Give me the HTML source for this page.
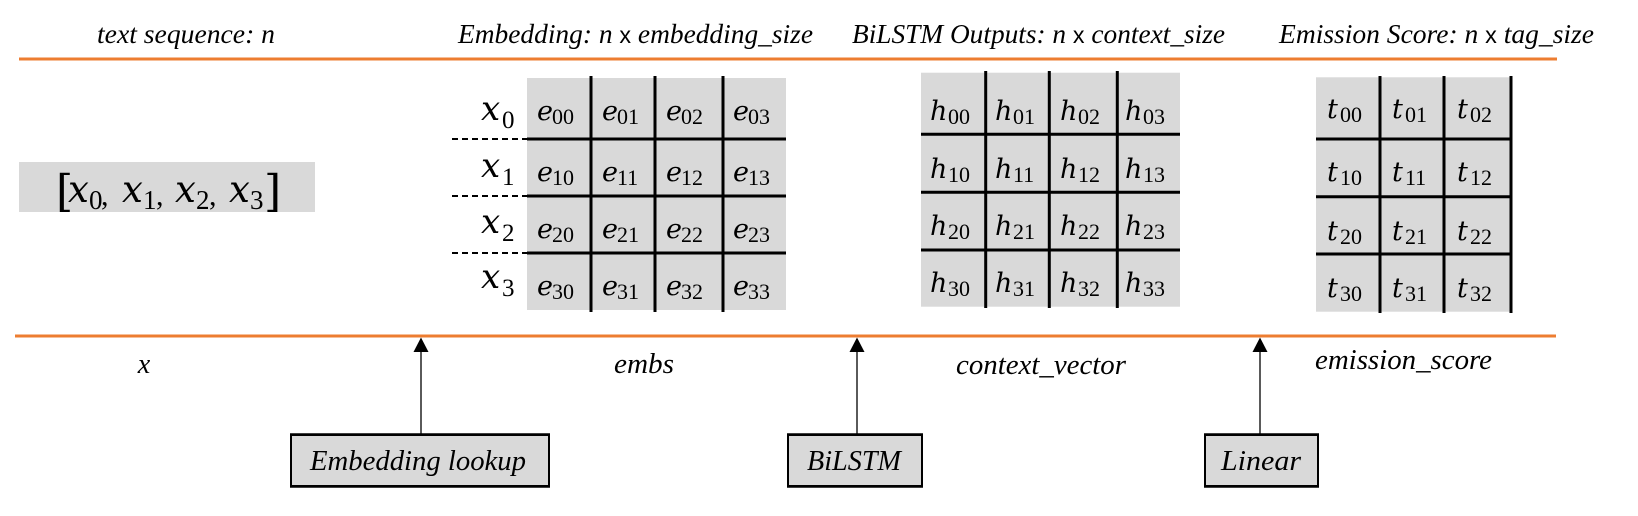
<!DOCTYPE html>
<html>
<head>
<meta charset="utf-8">
<style>
  html, body { margin:0; padding:0; background:#ffffff; }
  body { width:1638px; height:516px; overflow:hidden; }
  svg { display:block; }
  .lab { font-family:"Liberation Serif", serif; font-style:italic; font-size:28px; fill:#000; }
  .hd { font-family:"Liberation Serif", serif; font-style:italic; font-size:27px; fill:#000; }
  .tx { font-family:"Liberation Sans", sans-serif; font-style:normal; font-size:23px; }
  .v { font-family:"DejaVu Serif", serif; font-style:italic; font-size:27px; fill:#000; }
  .s { font-family:"Liberation Serif", serif; font-size:22px; fill:#000; }
  .vx { font-family:"DejaVu Serif", serif; font-style:italic; font-size:34px; fill:#000; }
  .sx { font-family:"Liberation Serif", serif; font-size:25px; fill:#000; }
  .bx { font-family:"DejaVu Serif", serif; font-style:italic; font-size:37px; fill:#000; }
  .bs { font-family:"Liberation Serif", serif; font-size:27px; fill:#000; }
  .br { font-family:"DejaVu Serif", serif; font-size:44px; fill:#000; }
  .cm { font-family:"Liberation Serif", serif; font-size:30px; fill:#000; }
</style>
</head>
<body>
<svg width="1638" height="516" viewBox="0 0 1638 516" xmlns="http://www.w3.org/2000/svg">
  <rect x="0" y="0" width="1638" height="516" fill="#ffffff"/>

  <!-- Headers -->
  <text class="hd" x="97" y="43" textLength="178" lengthAdjust="spacingAndGlyphs">text sequence: n</text>
  <text class="hd" x="458" y="43" textLength="355" lengthAdjust="spacingAndGlyphs">Embedding: n <tspan class="tx">x</tspan> embedding_size</text>
  <text class="hd" x="852" y="43" textLength="373" lengthAdjust="spacingAndGlyphs">BiLSTM Outputs: n <tspan class="tx">x</tspan> context_size</text>
  <text class="hd" x="1279" y="43" textLength="315" lengthAdjust="spacingAndGlyphs">Emission Score: n <tspan class="tx">x</tspan> tag_size</text>

  <!-- Top orange line -->
  <line x1="19" y1="59" x2="1557" y2="59" stroke="#ED7D31" stroke-width="3"/>

  <!-- Input sequence box -->
  <rect x="19" y="162" width="296" height="50" fill="#d9d9d9"/>
  <text class="br" x="56" y="206">[</text>
  <text class="bx" x="68" y="202">x</text><text class="bs" x="89" y="209">0</text><text class="cm" x="101" y="205">,</text>
  <text class="bx" x="122" y="202">x</text><text class="bs" x="143" y="209">1</text><text class="cm" x="156" y="205">,</text>
  <text class="bx" x="175" y="202">x</text><text class="bs" x="196" y="209">2</text><text class="cm" x="209" y="205">,</text>
  <text class="bx" x="229" y="202">x</text><text class="bs" x="250" y="209">3</text>
  <text class="br" x="264" y="206">]</text>

  <!-- Embedding grid -->
  <rect x="527" y="78" width="259" height="232" fill="#d9d9d9"/>
  <g stroke="#000" stroke-width="3">
    <line x1="591" y1="76" x2="591" y2="312"/>
    <line x1="655" y1="76" x2="655" y2="312"/>
    <line x1="723" y1="76" x2="723" y2="312"/>
    <line x1="527" y1="139" x2="786" y2="139"/>
    <line x1="527" y1="196" x2="786" y2="196"/>
    <line x1="527" y1="253" x2="786" y2="253"/>
  </g>
  <g stroke="#000" stroke-width="2" stroke-dasharray="6,4">
    <line x1="452" y1="139" x2="527" y2="139"/>
    <line x1="452" y1="196" x2="527" y2="196"/>
    <line x1="452" y1="253" x2="527" y2="253"/>
  </g>
  <!-- x labels -->
  <text class="vx" x="481" y="120">x</text><text class="sx" x="502" y="128">0</text>
  <text class="vx" x="481" y="177">x</text><text class="sx" x="502" y="185">1</text>
  <text class="vx" x="481" y="233">x</text><text class="sx" x="502" y="241">2</text>
  <text class="vx" x="481" y="288">x</text><text class="sx" x="502" y="296">3</text>

  <!-- e cells -->
  <text class="v" x="537" y="120">e</text><text class="s" x="552" y="124">00</text>
  <text class="v" x="602" y="120">e</text><text class="s" x="617" y="124">01</text>
  <text class="v" x="666" y="120">e</text><text class="s" x="681" y="124">02</text>
  <text class="v" x="733" y="120">e</text><text class="s" x="748" y="124">03</text>

  <text class="v" x="537" y="181">e</text><text class="s" x="552" y="185">10</text>
  <text class="v" x="602" y="181">e</text><text class="s" x="617" y="185">11</text>
  <text class="v" x="666" y="181">e</text><text class="s" x="681" y="185">12</text>
  <text class="v" x="733" y="181">e</text><text class="s" x="748" y="185">13</text>

  <text class="v" x="537" y="238">e</text><text class="s" x="552" y="242">20</text>
  <text class="v" x="602" y="238">e</text><text class="s" x="617" y="242">21</text>
  <text class="v" x="666" y="238">e</text><text class="s" x="681" y="242">22</text>
  <text class="v" x="733" y="238">e</text><text class="s" x="748" y="242">23</text>

  <text class="v" x="537" y="295">e</text><text class="s" x="552" y="299">30</text>
  <text class="v" x="602" y="295">e</text><text class="s" x="617" y="299">31</text>
  <text class="v" x="666" y="295">e</text><text class="s" x="681" y="299">32</text>
  <text class="v" x="733" y="295">e</text><text class="s" x="748" y="299">33</text>

  <!-- BiLSTM grid -->
  <rect x="921" y="72.7" width="259" height="234" fill="#d9d9d9"/>
  <g stroke="#000" stroke-width="3">
    <line x1="985.7" y1="71" x2="985.7" y2="308"/>
    <line x1="1049.3" y1="71" x2="1049.3" y2="308"/>
    <line x1="1117.3" y1="71" x2="1117.3" y2="308"/>
    <line x1="921" y1="134.3" x2="1180" y2="134.3"/>
    <line x1="921" y1="192.3" x2="1180" y2="192.3"/>
    <line x1="921" y1="250" x2="1180" y2="250"/>
  </g>
  <text class="v" x="930" y="120">h</text><text class="s" x="948" y="124">00</text>
  <text class="v" x="995" y="120">h</text><text class="s" x="1013" y="124">01</text>
  <text class="v" x="1060" y="120">h</text><text class="s" x="1078" y="124">02</text>
  <text class="v" x="1125" y="120">h</text><text class="s" x="1143" y="124">03</text>

  <text class="v" x="930" y="178">h</text><text class="s" x="948" y="182">10</text>
  <text class="v" x="995" y="178">h</text><text class="s" x="1013" y="182">11</text>
  <text class="v" x="1060" y="178">h</text><text class="s" x="1078" y="182">12</text>
  <text class="v" x="1125" y="178">h</text><text class="s" x="1143" y="182">13</text>

  <text class="v" x="930" y="235">h</text><text class="s" x="948" y="239">20</text>
  <text class="v" x="995" y="235">h</text><text class="s" x="1013" y="239">21</text>
  <text class="v" x="1060" y="235">h</text><text class="s" x="1078" y="239">22</text>
  <text class="v" x="1125" y="235">h</text><text class="s" x="1143" y="239">23</text>

  <text class="v" x="930" y="292">h</text><text class="s" x="948" y="296">30</text>
  <text class="v" x="995" y="292">h</text><text class="s" x="1013" y="296">31</text>
  <text class="v" x="1060" y="292">h</text><text class="s" x="1078" y="296">32</text>
  <text class="v" x="1125" y="292">h</text><text class="s" x="1143" y="296">33</text>

  <!-- Emission grid -->
  <rect x="1316" y="77.3" width="196" height="234.4" fill="#d9d9d9"/>
  <g stroke="#000" stroke-width="3">
    <line x1="1380" y1="76" x2="1380" y2="313"/>
    <line x1="1444" y1="76" x2="1444" y2="313"/>
    <line x1="1511" y1="76" x2="1511" y2="313"/>
    <line x1="1316" y1="139" x2="1512" y2="139"/>
    <line x1="1316" y1="196.7" x2="1512" y2="196.7"/>
    <line x1="1316" y1="254" x2="1512" y2="254"/>
  </g>
  <text class="v" x="1327" y="118">t</text><text class="s" x="1340" y="122">00</text>
  <text class="v" x="1392" y="118">t</text><text class="s" x="1405" y="122">01</text>
  <text class="v" x="1457" y="118">t</text><text class="s" x="1470" y="122">02</text>

  <text class="v" x="1327" y="181">t</text><text class="s" x="1340" y="185">10</text>
  <text class="v" x="1392" y="181">t</text><text class="s" x="1405" y="185">11</text>
  <text class="v" x="1457" y="181">t</text><text class="s" x="1470" y="185">12</text>

  <text class="v" x="1327" y="240">t</text><text class="s" x="1340" y="244">20</text>
  <text class="v" x="1392" y="240">t</text><text class="s" x="1405" y="244">21</text>
  <text class="v" x="1457" y="240">t</text><text class="s" x="1470" y="244">22</text>

  <text class="v" x="1327" y="297">t</text><text class="s" x="1340" y="301">30</text>
  <text class="v" x="1392" y="297">t</text><text class="s" x="1405" y="301">31</text>
  <text class="v" x="1457" y="297">t</text><text class="s" x="1470" y="301">32</text>

  <!-- Bottom orange line -->
  <line x1="15" y1="336" x2="1556" y2="336" stroke="#ED7D31" stroke-width="3"/>

  <!-- Bottom labels -->
  <text class="lab" x="144" y="373" text-anchor="middle">x</text>
  <text class="lab" x="614" y="373" textLength="60" lengthAdjust="spacingAndGlyphs">embs</text>
  <text class="lab" x="956" y="374" textLength="170" lengthAdjust="spacingAndGlyphs">context_vector</text>
  <text class="lab" x="1315" y="369" textLength="177" lengthAdjust="spacingAndGlyphs">emission_score</text>

  <!-- Arrows -->
  <g stroke="#000" stroke-width="1.3">
    <line x1="421" y1="434" x2="421" y2="350"/>
    <line x1="857" y1="434" x2="857" y2="350"/>
    <line x1="1260" y1="434" x2="1260" y2="350"/>
  </g>
  <g fill="#000">
    <polygon points="413.5,352 428.5,352 421,337.5"/>
    <polygon points="849.5,352 864.5,352 857,337.5"/>
    <polygon points="1252.5,352 1267.5,352 1260,337.5"/>
  </g>

  <!-- Boxes -->
  <rect x="291" y="435" width="258" height="51" fill="#d9d9d9" stroke="#000" stroke-width="2"/>
  <rect x="788" y="435" width="134" height="51" fill="#d9d9d9" stroke="#000" stroke-width="2"/>
  <rect x="1205" y="435" width="113" height="51" fill="#d9d9d9" stroke="#000" stroke-width="2"/>
  <line x1="290" y1="434.5" x2="550" y2="434.5" stroke="#000" stroke-width="2.5"/>
  <line x1="290" y1="486.5" x2="550" y2="486.5" stroke="#000" stroke-width="2.5"/>
  <line x1="787" y1="434.5" x2="923" y2="434.5" stroke="#000" stroke-width="2.5"/>
  <line x1="787" y1="486.5" x2="923" y2="486.5" stroke="#000" stroke-width="2.5"/>
  <line x1="1204" y1="434.5" x2="1319" y2="434.5" stroke="#000" stroke-width="2.5"/>
  <line x1="1204" y1="486.5" x2="1319" y2="486.5" stroke="#000" stroke-width="2.5"/>

  <text class="lab" x="310" y="470" textLength="216" lengthAdjust="spacingAndGlyphs">Embedding lookup</text>
  <text class="lab" x="807" y="470" textLength="94" lengthAdjust="spacingAndGlyphs">BiLSTM</text>
  <text class="lab" x="1221" y="470" textLength="80" lengthAdjust="spacingAndGlyphs">Linear</text>
</svg>
</body>
</html>
